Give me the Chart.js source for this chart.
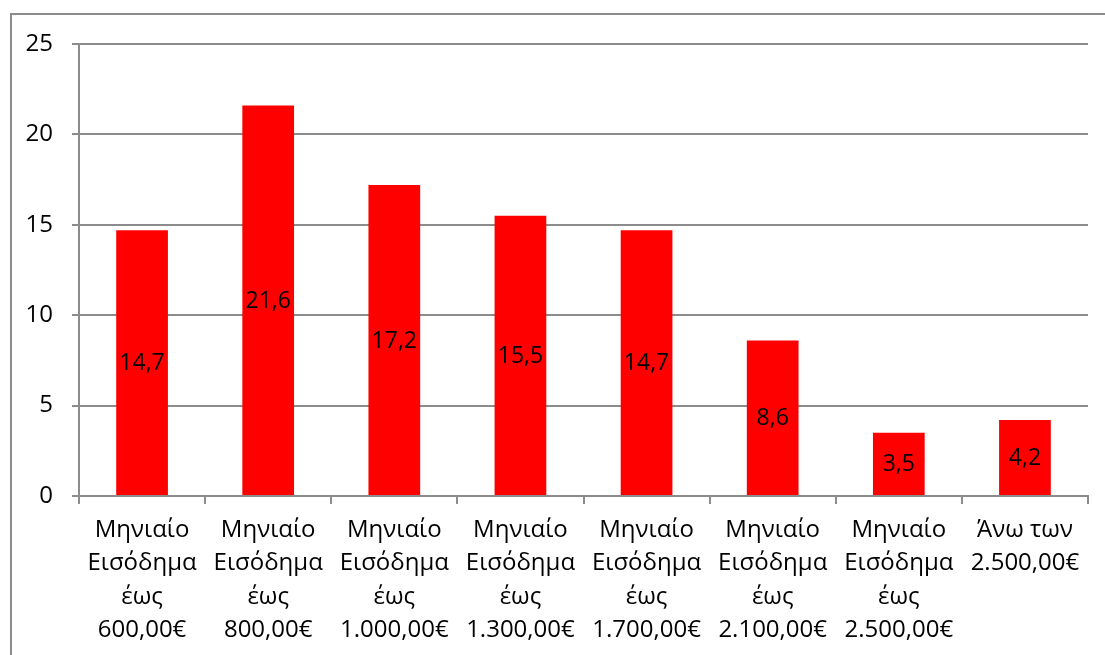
<!DOCTYPE html>
<html>
<head>
<meta charset="utf-8">
<script src="https://cdn.jsdelivr.net/npm/chart.js@4/dist/chart.umd.min.js"></script>
<style>
    html, body { margin: 0; padding: 0; background: #fff; overflow: hidden; }
    #wrap { position: relative; width: 1105px; height: 655px; }
    #frame {
        position: absolute; left: 10px; top: 13px; width: 1200px; height: 800px;
        border-left: 2px solid #8c8c8c; border-top: 2px solid #8c8c8c;
    }
    canvas { position: absolute; left: 0; top: 0; }
</style>
</head>
<body>
<div id="wrap">
    <div id="frame"></div>
    <canvas id="barPlot" width="1105" height="655"></canvas>
</div>
<script>
// Categories and values
const categories = [
    ['Μηνιαίο', 'Εισόδημα', 'έως', '600,00€'],
    ['Μηνιαίο', 'Εισόδημα', 'έως', '800,00€'],
    ['Μηνιαίο', 'Εισόδημα', 'έως', '1.000,00€'],
    ['Μηνιαίο', 'Εισόδημα', 'έως', '1.300,00€'],
    ['Μηνιαίο', 'Εισόδημα', 'έως', '1.700,00€'],
    ['Μηνιαίο', 'Εισόδημα', 'έως', '2.100,00€'],
    ['Μηνιαίο', 'Εισόδημα', 'έως', '2.500,00€'],
    ['Άνω των', '2.500,00€']
]
const values = [14.7, 21.6, 17.2, 15.5, 14.7, 8.6, 3.5, 4.2]
const yTicks = [0, 5, 10, 15, 20, 25]

const FONT = '"Open Sans", "Noto Sans", sans-serif'
const GRID = '#8c8c8c'

// Value labels in the middle of each bar, with a comma decimal
const midLabels = {
    id: 'midLabels',
    afterDatasetsDraw (chart) {
        const ctx = chart.ctx
        const meta = chart.getDatasetMeta(0)
        ctx.save()
        ctx.font = '23px ' + FONT
        ctx.fillStyle = '#000'
        ctx.textAlign = 'center'
        ctx.textBaseline = 'middle'
        meta.data.forEach((bar, i) => {
            const txt = values[i].toFixed(1).replace('.', ',')
            ctx.fillText(txt, bar.x, (bar.y + bar.base) / 2 + 1)
        })
        ctx.restore()
    }
}

new Chart(document.getElementById('barPlot'), {
    type: 'bar',
    data: {
        labels: categories,
        datasets: [{
            data: values,
            backgroundColor: '#ff0000',
            borderWidth: 0,
            categoryPercentage: 1,
            barPercentage: 0.41
        }]
    },
    options: {
        responsive: false,
        animation: false,
        layout: { padding: { left: 0, top: 44, right: 17, bottom: 0 } },
        plugins: {
            legend: { display: false },
            tooltip: { enabled: false }
        },
        scales: {
            x: {
                afterFit (scale) { scale.height = 159 },
                grid: {
                    offset: true,
                    drawOnChartArea: false,
                    color: GRID,
                    lineWidth: 2,
                    tickLength: 8
                },
                border: { color: GRID, width: 2 },
                ticks: {
                    color: '#000',
                    font: { family: FONT, size: 24, lineHeight: 1.4 },
                    padding: 9,
                    maxRotation: 0,
                    autoSkip: false
                }
            },
            y: {
                min: 0,
                max: 25,
                afterFit (scale) { scale.width = 79 },
                afterBuildTicks (scale) { scale.ticks = yTicks.map(v => ({ value: v })) },
                grid: {
                    color: GRID,
                    lineWidth: 2,
                    tickLength: 7
                },
                border: { color: GRID, width: 2 },
                ticks: {
                    color: '#000',
                    font: { family: FONT, size: 24 },
                    padding: 19
                }
            }
        }
    },
    plugins: [midLabels]
})
</script>
</body>
</html>
